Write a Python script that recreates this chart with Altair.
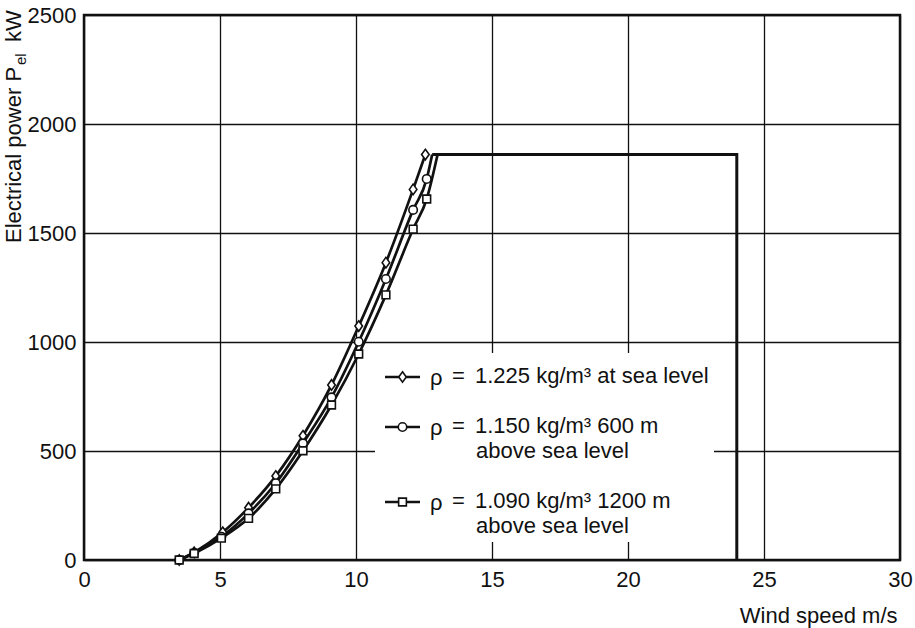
import altair as alt
import pandas as pd

# ---- data ----
ws_diamond = [3.5, 4.05, 5.1, 6.05, 7.05, 8.05, 9.1, 10.1, 11.1, 12.1, 12.55]
p_diamond = [0, 35, 127, 240, 385, 570, 803, 1073, 1364, 1700, 1860]
ws_circle = [3.5, 4.05, 5.05, 6.05, 7.05, 8.05, 9.1, 10.1, 11.1, 12.1, 12.6]
p_circle = [0, 33, 107, 214, 352, 535, 746, 1001, 1289, 1606, 1748]
ws_square = [3.5, 4.05, 5.05, 6.05, 7.05, 8.05, 9.1, 10.1, 11.1, 12.1, 12.6]
p_square = [0, 30, 100, 191, 326, 501, 711, 945, 1216, 1518, 1656]
# where each curve meets the rated-power line
end_circle = (12.8, 1860)
end_square = (13.0, 1860)
# rated power plateau and cut-out
rated_ws = [12.8, 24, 24]
rated_p = [1860, 1860, 0]

x_ticks = [0, 5, 10, 15, 20, 25, 30]
y_ticks = [0, 500, 1000, 1500, 2000, 2500]

legend_line1 = ["1.225 kg/m³ at sea level", "1.150 kg/m³ 600 m", "1.090 kg/m³ 1200 m"]
legend_line2 = ["", "above sea level", "above sea level"]

FONT = "Liberation Sans, Arial, sans-serif"
FS = 22
INK = "#111111"
DIAMOND = "M0,-1L0.72,0L0,1L-0.72,0Z"

W, H = 816, 545

def series_df(ws, p, name, end=None):
    rows = [{"ws": a, "p": b, "s": name, "o": i} for i, (a, b) in enumerate(zip(ws, p))]
    if end is not None:
        rows.append({"ws": end[0], "p": end[1], "s": name, "o": len(rows)})
    return pd.DataFrame(rows)

xs = alt.Scale(domain=[0, 30], nice=False, zero=False)
ys = alt.Scale(domain=[0, 2500], nice=False)
xenc = alt.X("ws:Q", scale=xs, axis=alt.Axis(values=x_ticks, title="Wind speed m/s", format="d",
            titleAnchor="end", titleAlign="right", titleX=813, titleY=62,
            titleBaseline="alphabetic", labelPadding=9, labelFlush=False))
yenc = alt.Y("p:Q", scale=ys, axis=alt.Axis(values=y_ticks, title=None, format="d",
            labelPadding=8, labelFlush=False))

df_d = series_df(ws_diamond, p_diamond, "d")
df_c = series_df(ws_circle, p_circle, "c")
df_s = series_df(ws_square, p_square, "s")
df_cl = series_df(ws_circle, p_circle, "c", end_circle)
df_sl = series_df(ws_square, p_square, "s", end_square)
df_r = pd.DataFrame({"ws": rated_ws, "p": rated_p, "o": list(range(len(rated_ws)))})

one = pd.DataFrame({"k": [0]})

base_axes = alt.Chart(df_d).mark_point(opacity=0).encode(x=xenc, y=yenc)

legend_bg = alt.Chart(one).mark_rect(color="white").encode(
    x=alt.value(291), x2=alt.value(630), y=alt.value(338), y2=alt.value(527))

def curve(df):
    return alt.Chart(df).mark_line(color=INK, strokeWidth=2.7, interpolate="monotone").encode(
        x=alt.X("ws:Q", scale=xs), y=alt.Y("p:Q", scale=ys), order="o:Q")

rated = alt.Chart(df_r).mark_line(color=INK, strokeWidth=3, strokeJoin="miter").encode(
    x=alt.X("ws:Q", scale=xs), y=alt.Y("p:Q", scale=ys), order="o:Q")

def markers(df, shape, size):
    return alt.Chart(df).mark_point(shape=shape, size=size, filled=True, fill="white",
                                    stroke=INK, strokeWidth=1.6, opacity=1).encode(
        x=alt.X("ws:Q", scale=xs), y=alt.Y("p:Q", scale=ys))

layers = [base_axes, legend_bg, curve(df_d), curve(df_cl), curve(df_sl), rated,
          markers(df_d, DIAMOND, 110), markers(df_c, "circle", 72), markers(df_s, "square", 60)]

# ---- legend ----
def txt(t, x, y, size=FS, align="left"):
    return alt.Chart(pd.DataFrame({"t": [t]})).mark_text(
        font=FONT, fontSize=size, align=align, baseline="middle", color=INK).encode(
        text="t:N", x=alt.value(x), y=alt.value(y))

shapes = [(DIAMOND, 110), ("circle", 72), ("square", 60)]
row_y = [362, 412, 487]
for i, (shape, size) in enumerate(shapes):
    yy = row_y[i]
    layers.append(alt.Chart(one).mark_rule(color=INK, strokeWidth=2.5).encode(
        x=alt.value(301), x2=alt.value(336), y=alt.value(yy)))
    layers.append(alt.Chart(one).mark_point(shape=shape, size=size, filled=True, fill="white",
                                            stroke=INK, strokeWidth=1.6, opacity=1).encode(
        x=alt.value(318.5), y=alt.value(yy)))
    layers.append(txt("ρ", 346, yy + 1))
    layers.append(txt("=", 368, yy - 1))
    layers.append(txt(legend_line1[i], 391, yy - 1))
    if legend_line2[i]:
        layers.append(txt(legend_line2[i], 392, yy + 24))

# ---- y-axis title with subscript ----
def ytext(t, x, y, size, align):
    return alt.Chart(pd.DataFrame({"t": [t]})).mark_text(
        font=FONT, fontSize=size, angle=270, align=align, baseline="alphabetic", color=INK).encode(
        text="t:N", x=alt.value(x), y=alt.value(y))

layers.append(ytext("Electrical power P", -63, 228, FS, "left"))
layers.append(ytext("el", -58, 50, 15, "left"))
layers.append(ytext("kW", -63, 27, FS, "left"))

chart = alt.layer(*layers).properties(
    width=W, height=H,
    autosize=alt.AutoSizeParams(type="none"),
    padding={"left": 84, "top": 15, "right": 15, "bottom": 68},
).configure_view(stroke=INK, strokeWidth=2.5).configure_axis(
    grid=True, gridColor=INK, gridWidth=1.3, gridOpacity=1, domain=False, ticks=False,
    labelFont=FONT, labelFontSize=FS, labelColor=INK, titleFont=FONT, titleFontSize=FS,
    titleColor=INK, titleFontWeight="normal",
)

chart.save("out.html", embed_options={"renderer": "svg", "actions": False})
